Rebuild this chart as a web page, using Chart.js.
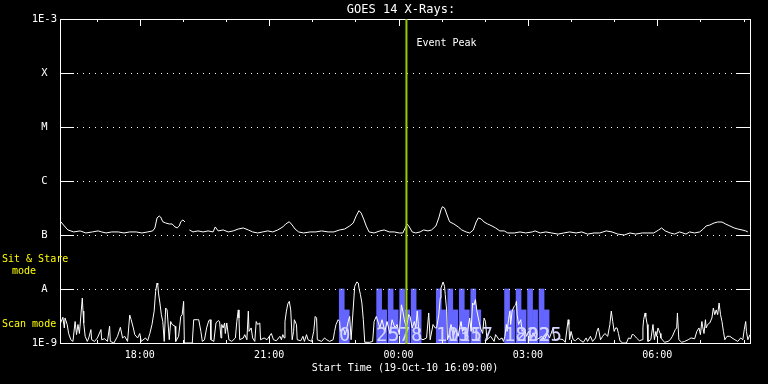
<!DOCTYPE html>
<html><head><meta charset="utf-8">
<script src="https://cdn.jsdelivr.net/npm/chart.js@4.4.1/dist/chart.umd.min.js"></script>
<style>html,body{margin:0;padding:0;background:#000;overflow:hidden}</style>
</head><body>
<canvas id="c" width="768" height="384"></canvas>
<script>
// ---- text ----
const titleText = 'GOES 14 X-Rays:';
const xAxisTitle = 'Start Time (19-Oct-10 16:09:00)';
const eventText = 'Event Peak';
const modeLabels = ['Sit & Stare', 'mode', 'Scan mode'];

// ---- axes (x in minutes since 19-Oct-10 16:09:00) ----
const xMin = 0, xMax = 960;
const xTickMinutes = [111, 291, 471, 651, 831];
const xTickLabels = ['18:00', '21:00', '00:00', '03:00', '06:00'];
const hourTickMinutes = [51, 111, 171, 231, 291, 351, 411, 471, 531, 591, 651, 711, 771, 831, 891, 951];
const yTickValues = [1e-9, 1e-8, 1e-7, 1e-6, 1e-5, 1e-4, 1e-3];
const yTickLabels = ['1E-9', 'A', 'B', 'C', 'M', 'X', '1E-3'];
const eventPeakMinute = 482;

// ---- long channel (1-8 A) ----
const longTimes = [0,6,11,19,28,36,45,53,58,64,72,81,89,97,106,114,122,129,132,135,138,140,143,147,152,156,160,163,166,168,171,174,177,180,185,192,199,206,213,216,220,227,234,241,248,255,262,268,275,282,289,296,303,310,314,319,323,327,332,339,348,356,364,373,381,389,396,403,408,412,416,419,423,426,430,437,445,451,458,465,472,477,483,486,490,495,501,506,512,517,523,527,530,532,535,538,542,548,554,559,565,570,575,579,582,586,590,595,601,606,612,618,623,632,640,648,657,661,668,676,684,693,701,709,718,726,734,743,751,760,768,776,785,793,801,810,818,826,833,837,842,849,855,862,871,876,883,890,895,899,904,910,915,921,926,932,938,943,949,954,957];
const longFlux = [1.83e-7,1.47e-7,1.24e-7,1.14e-7,1.19e-7,1.09e-7,1.14e-7,1.19e-7,1.14e-7,1.09e-7,1.14e-7,1.14e-7,1.09e-7,1.14e-7,1.14e-7,1.09e-7,1.14e-7,1.19e-7,1.35e-7,2.07e-7,2.25e-7,2.15e-7,1.76e-7,1.67e-7,1.6e-7,1.6e-7,1.41e-7,1.35e-7,1.47e-7,1.76e-7,1.9e-7,1.74e-7,null,1.24e-7,1.14e-7,1.19e-7,1.14e-7,1.19e-7,1.14e-7,1.41e-7,1.19e-7,1.24e-7,1.14e-7,1.19e-7,1.29e-7,1.35e-7,1.24e-7,1.14e-7,1.09e-7,1.14e-7,1.19e-7,1.14e-7,1.24e-7,1.41e-7,1.6e-7,1.76e-7,1.53e-7,1.29e-7,1.14e-7,1.09e-7,1.14e-7,1.14e-7,1.19e-7,1.14e-7,1.14e-7,1.24e-7,1.29e-7,1.47e-7,1.67e-7,2.25e-7,2.82e-7,2.55e-7,1.9e-7,1.47e-7,1.14e-7,1.09e-7,1.19e-7,1.24e-7,1.14e-7,1.14e-7,1.09e-7,1.09e-7,1.6e-7,1.41e-7,1.14e-7,1.09e-7,1.14e-7,1.24e-7,1.19e-7,1.24e-7,1.47e-7,2.07e-7,2.9e-7,3.34e-7,3.16e-7,2.45e-7,1.76e-7,1.6e-7,1.41e-7,1.24e-7,1.14e-7,1.09e-7,1.24e-7,1.74e-7,2.07e-7,1.98e-7,1.74e-7,1.6e-7,1.47e-7,1.35e-7,1.19e-7,1.19e-7,1.09e-7,1.09e-7,1.14e-7,1.09e-7,1.14e-7,1.19e-7,1.09e-7,1.14e-7,1.09e-7,1.04e-7,1.09e-7,1.14e-7,1.09e-7,1.14e-7,1.04e-7,1.09e-7,1.09e-7,1.19e-7,1.14e-7,1.04e-7,1.0e-7,1.09e-7,1.04e-7,1.09e-7,1.09e-7,1.09e-7,1.24e-7,1.35e-7,1.19e-7,1.09e-7,1.04e-7,1.14e-7,1.04e-7,1.14e-7,1.09e-7,1.14e-7,1.29e-7,1.47e-7,1.53e-7,1.67e-7,1.74e-7,1.74e-7,1.6e-7,1.47e-7,1.35e-7,1.29e-7,1.24e-7,1.19e-7,1.14e-7];

// ---- short channel (0.5-4 A) ----
const shortTimes = [0,4,6,7,10,12,15,18,21,23,25,27,31,32,33,35,38,40,43,44,48,52,57,58,62,66,69,70,75,80,84,87,90,94,97,99,102,104,108,111,113,119,122,125,128,131,133,135,136,137,139,141,143,145,147,149,152,154,156,160,161,165,168,170,172,173,184,186,191,193,196,198,201,204,207,209,210,214,217,220,222,224,225,227,229,230,232,235,239,244,246,248,249,250,255,257,260,262,263,266,268,271,273,275,278,279,284,288,294,297,301,306,308,310,312,313,315,317,319,321,323,325,326,329,330,335,338,340,343,345,350,353,355,357,358,364,368,371,375,380,382,384,387,389,390,394,397,401,403,405,408,410,413,415,416,418,420,422,424,431,435,437,440,443,445,448,452,455,459,462,466,469,472,475,477,479,482,485,487,490,493,495,497,500,505,510,513,515,519,522,524,527,529,530,533,535,536,538,539,542,544,547,550,554,556,558,560,563,566,570,572,574,576,578,580,583,585,588,590,592,594,599,604,606,611,615,617,619,621,622,624,626,627,629,632,634,635,636,638,641,643,646,649,652,656,659,663,667,670,674,678,681,686,688,694,700,703,707,708,709,711,714,717,721,723,728,732,734,738,741,745,747,749,752,755,758,762,765,767,769,771,773,775,777,779,783,788,791,794,796,798,802,806,810,811,812,814,815,817,818,822,825,827,829,830,832,835,836,841,846,849,852,856,858,859,861,865,869,874,878,883,886,889,891,893,894,896,898,899,901,904,907,909,911,913,915,917,919,921,923,925,928,932,935,939,943,947,950,952,954,955,957,960];
const shortFlux = [2.2e-9,3.0e-9,1.9e-9,2.9e-9,2.2e-9,1.5e-9,1.15e-9,1.07e-9,2.5e-9,1.43e-9,2.2e-9,1.5e-9,6.8e-9,3.9e-9,2.35e-9,1.33e-9,1.07e-9,1.24e-9,1.77e-9,1.15e-9,1.07e-9,1.24e-9,1.77e-9,1.15e-9,1.2e-9,1.07e-9,2.04e-9,1.07e-9,1e-9,1.33e-9,1.95e-9,1.24e-9,1.33e-9,1.07e-9,3.3e-9,2.7e-9,1.9e-9,1.43e-9,1.24e-9,1.5e-9,1.07e-9,1.24e-9,1.1e-9,1.5e-9,2.2e-9,3.9e-9,9e-9,1.29e-8,1.2e-8,8.4e-9,5.5e-9,3.35e-9,2.5e-9,1.07e-9,4.45e-9,4.1e-9,1.15e-9,2.5e-9,2.2e-9,2.04e-9,1.07e-9,1.33e-9,3.1e-9,3.35e-9,5.9e-9,1e-9,1e-9,2.7e-9,2.7e-9,2.7e-9,1.64e-9,1.07e-9,1.15e-9,1.9e-9,2.6e-9,2.7e-9,1.15e-9,1.07e-9,2.35e-9,2.6e-9,2.5e-9,1.24e-9,2.2e-9,1.9e-9,2.35e-9,1.5e-9,2.35e-9,1.15e-9,1.07e-9,1.24e-9,2.5e-9,4.1e-9,2.9e-9,1.15e-9,1.24e-9,1.43e-9,1.15e-9,3.9e-9,1.64e-9,1.9e-9,1.24e-9,1.07e-9,2.5e-9,2.2e-9,2.35e-9,1.15e-9,1.24e-9,1.15e-9,1.5e-9,1.15e-9,1.1e-9,1.33e-9,1.15e-9,1.43e-9,1.24e-9,2.5e-9,3.9e-9,5.3e-9,5.9e-9,4.1e-9,1.15e-9,1.64e-9,2.7e-9,2.2e-9,1.15e-9,1.1e-9,1.33e-9,1.07e-9,1.43e-9,1.15e-9,1.07e-9,1.64e-9,3.1e-9,2.9e-9,1.15e-9,1.07e-9,1.24e-9,1.15e-9,1.07e-9,1.15e-9,1.64e-9,2.2e-9,2.7e-9,2.5e-9,1.64e-9,1.9e-9,1.43e-9,2.5e-9,3.1e-9,1.15e-9,4.45e-9,1.12e-8,1.35e-8,1.29e-8,1.04e-8,7.85e-9,5.5e-9,2.7e-9,1.03e-9,1.03e-9,1.07e-9,2.5e-9,3.1e-9,2.35e-9,1.9e-9,2.7e-9,1.64e-9,2.5e-9,1.5e-9,2.7e-9,1.9e-9,2.2e-9,1.43e-9,5.1e-9,3.9e-9,2.7e-9,1.9e-9,3.35e-9,3.1e-9,1.9e-9,2.5e-9,1.9e-9,3.9e-9,1.24e-9,1.15e-9,1.24e-9,3.6e-9,1.15e-9,2.2e-9,1.9e-9,1.9e-9,3.35e-9,6.8e-9,1.04e-8,1.35e-8,1.12e-8,7.85e-9,3.9e-9,1.15e-9,1.5e-9,2.2e-9,1.33e-9,1.77e-9,1.33e-9,1.9e-9,2.5e-9,1.64e-9,1.9e-9,1.33e-9,2.9e-9,1.64e-9,5.5e-9,5.1e-9,6.35e-9,3.9e-9,2.5e-9,1.9e-9,1.5e-9,2.9e-9,2.5e-9,1.15e-9,1.33e-9,1.07e-9,1.43e-9,1.15e-9,1.24e-9,1.07e-9,1.33e-9,2.2e-9,1.64e-9,2.7e-9,3.9e-9,2.2e-9,3.9e-9,4.8e-9,5.1e-9,5.9e-9,3.35e-9,2.2e-9,2.7e-9,1.64e-9,1.9e-9,1.33e-9,1.64e-9,1.33e-9,1.5e-9,1.15e-9,1.24e-9,1.33e-9,1.15e-9,1.5e-9,1.24e-9,1.9e-9,1.15e-9,1.2e-9,1.15e-9,1.03e-9,2.7e-9,2.2e-9,1.15e-9,1.64e-9,1.15e-9,1.1e-9,1.24e-9,1.15e-9,1.03e-9,1.24e-9,1.07e-9,1.33e-9,1.07e-9,1.24e-9,1.64e-9,1.9e-9,1.15e-9,1.33e-9,1.5e-9,1.33e-9,2.2e-9,3.9e-9,2.5e-9,1.64e-9,1.9e-9,1.9e-9,1.5e-9,1.1e-9,1e-9,1e-9,1.24e-9,1.2e-9,1.43e-9,1.43e-9,1.24e-9,1.1e-9,1.15e-9,1.9e-9,2.7e-9,3.6e-9,3.1e-9,2.2e-9,1.07e-9,1.15e-9,2.2e-9,1.15e-9,1.64e-9,1.33e-9,1.9e-9,1.5e-9,1.24e-9,1.03e-9,1.07e-9,1.15e-9,1.33e-9,1.77e-9,1.9e-9,3.6e-9,1.15e-9,1.03e-9,1.07e-9,1.15e-9,1.24e-9,1.2e-9,1.64e-9,1.9e-9,1.43e-9,2.5e-9,2.04e-9,1.5e-9,2.7e-9,1.9e-9,2.2e-9,2.35e-9,2.9e-9,4.45e-9,3.35e-9,4.1e-9,3.35e-9,5.5e-9,3.35e-9,2.5e-9,1.64e-9,1.15e-9,1.33e-9,1.33e-9,1.24e-9,1.15e-9,1.07e-9,1.24e-9,1.15e-9,1.77e-9,2.5e-9,1.64e-9,1.15e-9,1.43e-9];

// ---- observing-mode bars ----
const barTimes = [392,399,444,451,460,467,476,483,492,499,527,534,543,550,559,566,575,582,622,629,638,645,654,661,670,677];
const barTops = [1e-8,4.1e-9,1e-8,4.1e-9,1e-8,4.1e-9,1e-8,4.1e-9,1e-8,4.1e-9,1e-8,4.1e-9,1e-8,4.1e-9,1e-8,4.1e-9,1e-8,4.1e-9,1e-8,4.1e-9,1e-8,4.1e-9,1e-8,4.1e-9,1e-8,4.1e-9];
const barBase = 1e-9;
const scanLabelTimes = [392,444,460,476,492,527,543,559,575,622,638,654,670];
const scanLabelTexts = ['0','2','5','7','8','10','13','15','17','18','20','22','25'];

const MONO = '"DejaVu Sans Mono", "Liberation Mono", monospace';

const overlay = {
  id: 'overlay',
  afterDatasetsDraw(chart) {
    const {ctx, chartArea: a, scales: {x, y}} = chart;
    ctx.save();
    // scan numbers
    ctx.font = '19px ' + MONO;
    ctx.fillStyle = '#d4d4ff';
    ctx.textAlign = 'left';
    ctx.textBaseline = 'alphabetic';
    scanLabelTimes.forEach((t, i) => {
      ctx.fillText(scanLabelTexts[i], Math.round(x.getPixelForValue(t)) - 3, 341);
    });
    // gridlines at flare classes
    ctx.strokeStyle = '#fff';
    ctx.lineWidth = 1;
    yTickValues.forEach(v => {
      if (v === yTickValues[0] || v === yTickValues[yTickValues.length - 1]) return;
      const py = Math.round(y.getPixelForValue(v)) + 0.5;
      ctx.setLineDash([]);
      ctx.beginPath();
      ctx.moveTo(a.left, py); ctx.lineTo(a.left + 14, py);
      ctx.moveTo(a.right - 14, py); ctx.lineTo(a.right, py);
      ctx.stroke();
      ctx.setLineDash([1, 5]);
      ctx.beginPath();
      ctx.moveTo(a.left + 17, py); ctx.lineTo(a.right - 14, py);
      ctx.stroke();
    });
    ctx.setLineDash([]);
    // frame
    ctx.strokeRect(a.left + 0.5, a.top + 0.5, a.right - a.left, a.bottom - a.top);
    // hour ticks
    ctx.beginPath();
    hourTickMinutes.forEach(t => {
      const px = Math.round(x.getPixelForValue(t)) + 0.5;
      const len = xTickMinutes.includes(t) ? 7 : 3;
      ctx.moveTo(px, a.top); ctx.lineTo(px, a.top + len);
      ctx.moveTo(px, a.bottom); ctx.lineTo(px, a.bottom - len);
    });
    ctx.stroke();
    // event peak line
    const ex = x.getPixelForValue(eventPeakMinute);
    ctx.strokeStyle = '#99cc00';
    ctx.lineWidth = 2;
    ctx.beginPath();
    ctx.moveTo(ex, a.top); ctx.lineTo(ex, a.bottom + 1);
    ctx.stroke();
    ctx.fillStyle = '#fff';
    ctx.font = '10px ' + MONO;
    ctx.textBaseline = 'middle';
    ctx.fillText(eventText, ex + 10, 43);
    // title
    ctx.font = '12px ' + MONO;
    ctx.textAlign = 'center';
    ctx.fillText(titleText, 401, 10);
    // x title
    ctx.font = '10px ' + MONO;
    ctx.fillText(xAxisTitle, (a.left + a.right) / 2, 368);
    // mode labels
    ctx.fillStyle = '#ffff00';
    ctx.textAlign = 'left';
    ctx.fillText(modeLabels[0], 2, 259);
    ctx.textAlign = 'center';
    ctx.fillText(modeLabels[1], 24, 271);
    ctx.textAlign = 'left';
    ctx.fillText(modeLabels[2], 2, 324);
    ctx.restore();
  }
};

new Chart(document.getElementById('c'), {
  type: 'line',
  data: {
    datasets: [
      {
        type: 'line', label: 'long',
        data: longTimes.map((t, i) => ({x: t, y: longFlux[i]})),
        borderColor: '#ffffff', borderWidth: 1, pointRadius: 0, tension: 0, spanGaps: false, order: 1
      },
      {
        type: 'line', label: 'short',
        data: shortTimes.map((t, i) => ({x: t, y: shortFlux[i]})),
        borderColor: '#ffffff', borderWidth: 1, pointRadius: 0, tension: 0, order: 2
      },
      {
        type: 'bar', label: 'mode',
        data: barTimes.map((t, i) => ({x: t, y: [barBase, barTops[i]]})),
        backgroundColor: '#6464ff', borderWidth: 0, barThickness: 5, grouped: false, order: 3
      }
    ]
  },
  options: {
    responsive: false, animation: false, devicePixelRatio: 1,
    layout: {padding: {top: 19, right: 18, left: 0, bottom: 0}},
    plugins: {legend: {display: false}, tooltip: {enabled: false}, title: {display: false}},
    scales: {
      x: {
        type: 'linear', min: xMin, max: xMax, offset: false,
        grid: {display: false, drawTicks: false}, border: {display: false},
        afterBuildTicks: s => { s.ticks = xTickMinutes.map(v => ({value: v})); },
        afterFit: s => { s.height = 41; },
        ticks: {
          color: '#fff', font: {family: MONO, size: 10}, padding: 6,
          maxRotation: 0, autoSkip: false,
          callback: (v) => xTickLabels[xTickMinutes.indexOf(v)]
        }
      },
      y: {
        type: 'logarithmic', min: 1e-9, max: 1e-3,
        grid: {display: false, drawTicks: false}, border: {display: false},
        afterBuildTicks: s => { s.ticks = yTickValues.map(v => ({value: v})); },
        afterFit: s => { s.width = 60; },
        ticks: {
          color: '#fff', font: {family: MONO, size: 10.5}, padding: 3, crossAlign: 'center',
          autoSkip: false,
          callback: (v) => yTickLabels[yTickValues.indexOf(v)]
        }
      }
    }
  },
  plugins: [overlay]
});
</script>
</body></html>
